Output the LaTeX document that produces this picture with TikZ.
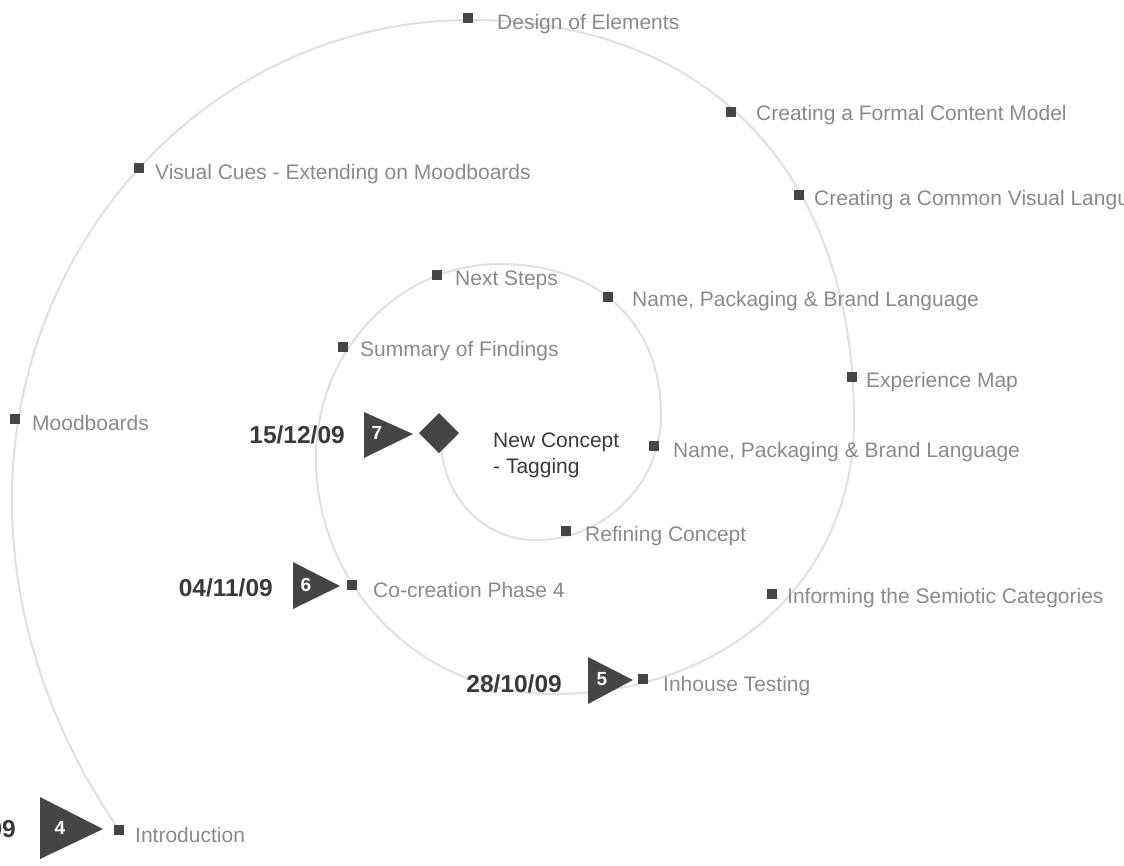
\documentclass[tikz,border=0pt]{standalone}
\usepackage{fontspec}
\setmainfont{Liberation Sans}
\definecolor{spiralcol}{HTML}{E0E0E0}
\definecolor{labelgray}{HTML}{8A8A8A}
\definecolor{markcol}{HTML}{454545}
\definecolor{datecol}{HTML}{3A3A3A}
\begin{document}
\begin{tikzpicture}[x=1pt,y=-1pt,
  lbl/.style={anchor=base west, inner sep=0pt, text=labelgray, font=\fontsize{21}{25}\selectfont},
  datelbl/.style={anchor=base east, inner sep=0pt, text=datecol, font=\fontsize{24.5}{28}\selectfont\bfseries},
  sq/.style={fill=markcol, minimum size=10pt, inner sep=0pt},
  num/.style={text=white, font=\fontsize{19}{22}\selectfont\bfseries, inner sep=0pt},
  darkfill/.style={fill=markcol},
  spiralline/.style={draw=spiralcol, line width=2pt}]
\useasboundingbox (0,0) rectangle (1124,865);
% spiral (quarter ellipses, outward, counter-clockwise on screen)
\coordinate (j0) at (441,440);
\coordinate (j1) at (535,540);
\coordinate (j2) at (661,415);
\coordinate (j3) at (500,264);
\coordinate (j4) at (316,458);
\coordinate (j5) at (552,694);
\coordinate (j6) at (854,420);
\coordinate (j7) at (470,20);
\coordinate (j8) at (12,500);
\coordinate (j9) at (119,830);
\path[spiralline] (j0)
 .. controls (441,495) and (483,540) .. (j1)
 .. controls (604.6,540) and (661,484) .. (j2)
 .. controls (661,322.9) and (598.2,264) .. (j3)
 .. controls (398.4,264) and (316,350.9) .. (j4)
 .. controls (316,588.3) and (421.7,694) .. (j5)
 .. controls (727.2,694) and (854,578.9) .. (j6)
 .. controls (854,172) and (708,20) .. (j7)
 .. controls (217,20) and (12,235) .. (j8)
 .. controls (12,618.7) and (51.8,732.1) .. (j9);
% squares
\node[sq] (s1) at (468,18) {};
\node[sq] (s2) at (731,112) {};
\node[sq] (s3) at (799,195) {};
\node[sq] (s4) at (139,168) {};
\node[sq] (s5) at (437,275) {};
\node[sq] (s6) at (608,297) {};
\node[sq] (s7) at (343,347) {};
\node[sq] (s8) at (852,377) {};
\node[sq] (s9) at (15,419) {};
\node[sq] (s10) at (654,446) {};
\node[sq] (s11) at (566,531) {};
\node[sq] (s12) at (352,585) {};
\node[sq] (s13) at (772,594) {};
\node[sq] (s14) at (643,679) {};
\node[sq] (s15) at (119,830) {};
% labels
\node[lbl] (l1) at (497,29) {Design of Elements};
\node[lbl] (l2) at (756,120) {Creating a Formal Content Model};
\node[lbl] (l3) at (814,205) {Creating a Common Visual Language};
\node[lbl] (l4) at (155,179) {Visual Cues - Extending on Moodboards};
\node[lbl] (l5) at (455,285) {Next Steps};
\node[lbl] (l6) at (632,306) {Name, Packaging \& Brand Language};
\node[lbl] (l7) at (360,356) {Summary of Findings};
\node[lbl] (l8) at (866,387) {Experience Map};
\node[lbl] (l9) at (32,430) {Moodboards};
\node[lbl] (l10) at (673,457) {Name, Packaging \& Brand Language};
\node[lbl] (l11) at (585,541) {Refining Concept};
\node[lbl] (l12) at (373,597) {Co-creation Phase 4};
\node[lbl] (l13) at (787,603) {Informing the Semiotic Categories};
\node[lbl] (l14) at (663,691) {Inhouse Testing};
\node[lbl] (l15) at (135,842) {Introduction};
\node[lbl, text=datecol] (nc1) at (493,447) {New Concept};
\node[lbl, text=datecol] (nc2) at (493,473) {- Tagging};
% triangles
\fill[darkfill] (40,797) -- (103,829) -- (40,859) -- cycle;
\node[num] (n4) at (60,828) {4};
\fill[darkfill] (588,657) -- (633,680) -- (588,704) -- cycle;
\node[num] (n5) at (602,679) {5};
\fill[darkfill] (293,562) -- (340,586) -- (293,609) -- cycle;
\node[num] (n6) at (306,585) {6};
\fill[darkfill] (364,412) -- (413,434) -- (364,458) -- cycle;
\node[num] (n7) at (377,433) {7};
% diamond
\fill[darkfill] (439,413) -- (459,433) -- (439,453) -- (419,433) -- cycle;
% dates
\node[datelbl] (d4) at (16,837) {09};
\node[datelbl] (d5) at (562,692) {28/10/09};
\node[datelbl] (d6) at (273,596) {04/11/09};
\node[datelbl] (d7) at (345,443) {15/12/09};
\end{tikzpicture}
\end{document}
